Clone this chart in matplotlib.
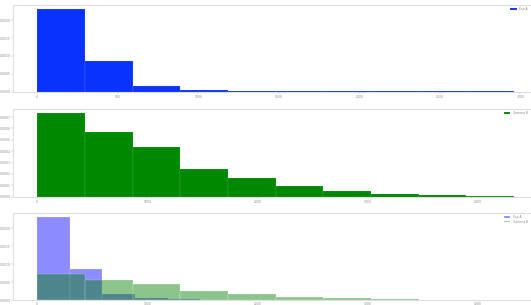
import numpy as np
import matplotlib
matplotlib.use("Agg")
import matplotlib.pyplot as plt

# ---- data ----
# series A: bin edges and density heights
a_max = 2960
a_density = [0.002317, 0.000857, 0.000154, 0.000042, 0.000017,
             0.000008, 0.000005, 0.000002, 0.000001, 0.000003]
# series B: bin edges and density heights
b_max = 4330
b_density = [0.000734, 0.000568, 0.000436, 0.000243, 0.000168,
             0.0000965, 0.00005, 0.0000237, 0.0000123, 0.000006]
a_label = "Exp A"
b_label = "Gamma B"
top_xticks = [0, 500, 1000, 1500, 2000, 2500, 3000]
mid_xticks = [0, 1000, 2000, 3000, 4000]
top_yticks = [0.0, 0.0005, 0.0010, 0.0015, 0.0020]
mid_yticks = [0.0, 0.0001, 0.0002, 0.0003, 0.0004, 0.0005, 0.0006, 0.0007]

a_edges = np.linspace(0, a_max, len(a_density) + 1)
b_edges = np.linspace(0, b_max, len(b_density) + 1)

W, H = 531, 305
fig = plt.figure(figsize=(W / 100, H / 100), dpi=100)

def pos(top_px, bot_px):
    left = 13.4 / W
    width = 524.4 / W
    return [left, 1 - bot_px / H, width, (bot_px - top_px) / H]

ax1 = fig.add_axes(pos(5, 91.5))
ax2 = fig.add_axes(pos(109, 196.7))
ax3 = fig.add_axes(pos(212.5, 300))

edge_kw = dict(edgecolor=(1, 1, 1, 0.25), linewidth=0.3)

ax1.hist(a_edges[:-1], bins=a_edges, weights=a_density, color="#0a32ff",
         label=a_label, **edge_kw)
ax2.hist(b_edges[:-1], bins=b_edges, weights=b_density, color="#008800",
         label=b_label, **edge_kw)
ax3.hist(a_edges[:-1], bins=a_edges, weights=a_density, color="blue",
         alpha=0.45, label=a_label, **edge_kw)
ax3.hist(b_edges[:-1], bins=b_edges, weights=b_density, color="green",
         alpha=0.45, label=b_label, **edge_kw)

ax1.set_xticks(top_xticks)
ax2.set_xticks(mid_xticks)
ax3.set_xticks(mid_xticks)
ax1.set_yticks(top_yticks)
ax2.set_yticks(mid_yticks)
ax3.set_yticks(top_yticks)

legend_right = (W - 1 - 13.4) / 524.4

for ax in (ax1, ax2, ax3):
    for s in ax.spines.values():
        s.set_color("#d8d8d8")
        s.set_linewidth(0.6)
    ax.tick_params(axis="both", labelsize=2.2, colors="#aaaaaa",
                   labelcolor="#888888", length=1.2, width=0.3, pad=1)
    ax.yaxis.set_major_formatter(matplotlib.ticker.FormatStrFormatter("%.4f"))
    leg = ax.legend(loc="upper right", fontsize=2.2, frameon=False,
                    handlelength=2.2, handleheight=0.6, borderaxespad=0.3,
                    labelspacing=0.3, bbox_to_anchor=(legend_right, 1.0))
    for t in leg.get_texts():
        t.set_color("#888888")

ax3.tick_params(axis="x", length=0.8, pad=0.4)

fig.savefig("out.png", dpi=100)
